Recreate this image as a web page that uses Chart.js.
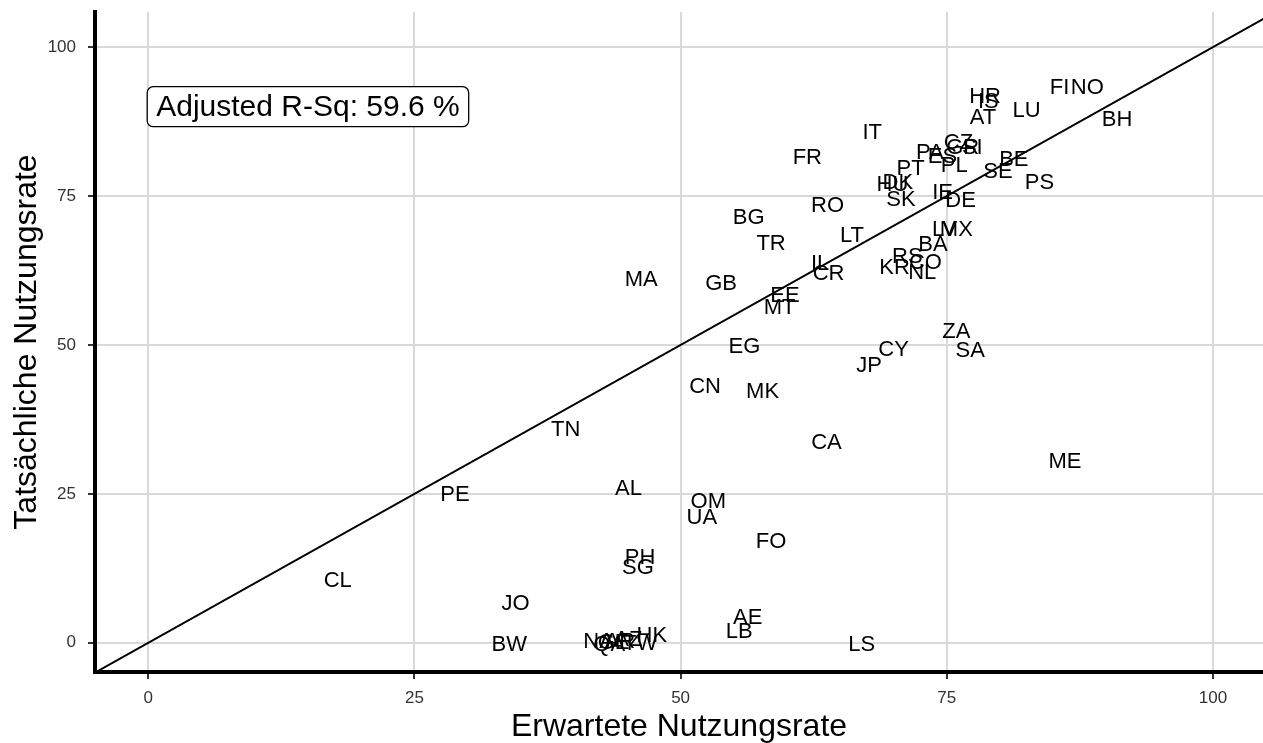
<!DOCTYPE html>
<html>
<head>
<meta charset="utf-8">
<script src="https://cdn.jsdelivr.net/npm/chart.js@4.4.1/dist/chart.umd.min.js"></script>
<style>
  html, body { margin: 0; padding: 0; background: #fff; }
</style>
</head>
<body>
<canvas id="myChart" width="1263" height="743"></canvas>
<script>
// country codes, expected usage rate (x) and actual usage rate (y)
var countries = ['FI', 'NO', 'HR', 'IS', 'AT', 'LU', 'BH', 'IT', 'FR', 'CZ',
  'GR', 'SI', 'PA', 'ES', 'PL', 'PT', 'BE', 'SE', 'PS', 'HU',
  'DK', 'SK', 'IE', 'DE', 'RO', 'BG', 'LV', 'MX', 'LT', 'TR',
  'BA', 'RS', 'CO', 'KR', 'NL', 'IL', 'CR', 'MA', 'GB', 'EE',
  'MT', 'ZA', 'SA', 'EG', 'CY', 'JP', 'CN', 'MK', 'TN', 'CA',
  'ME', 'AL', 'PE', 'OM', 'UA', 'FO', 'PH', 'SG', 'CL', 'JO',
  'AE', 'LB', 'BW', 'LS', 'NA', 'QA', 'GE', 'AR', 'AZ', 'TW', 'HK']
var expectedRate = [85.6, 88.2, 78.6, 78.9, 78.4, 82.5, 91.0, 68.0, 61.9, 76.1,
  76.5, 77.4, 73.4, 74.6, 75.7, 71.6, 81.3, 79.8, 83.7, 69.9,
  70.4, 70.7, 74.6, 76.3, 63.8, 56.4, 74.8, 75.9, 66.1, 58.5,
  73.7, 71.3, 73.0, 70.1, 72.7, 63.1, 63.9, 46.3, 53.8, 59.8,
  59.3, 75.9, 77.2, 56.0, 70.0, 67.7, 52.3, 57.7, 39.2, 63.7,
  86.1, 45.1, 28.8, 52.6, 52.0, 58.5, 46.2, 46.0, 17.8, 34.5,
  56.3, 55.5, 33.9, 67.0, 42.3, 43.3, 43.7, 44.3, 45.1, 46.2, 47.3]
var actualRate = [93.1, 93.1, 91.6, 90.8, 88.1, 89.3, 87.8, 85.6, 81.4, 83.9,
  83.1, 83.1, 82.2, 81.5, 80.0, 79.5, 81.0, 79.0, 77.2, 76.8,
  77.2, 74.3, 75.5, 74.2, 73.3, 71.3, 69.3, 69.3, 68.3, 66.9,
  66.8, 64.8, 63.8, 62.9, 62.1, 63.6, 61.9, 60.9, 60.2, 58.2,
  56.2, 52.2, 49.0, 49.7, 49.2, 46.5, 43.0, 42.1, 35.7, 33.6,
  30.4, 25.8, 24.8, 23.7, 21.0, 16.9, 14.3, 12.6, 10.4, 6.5,
  4.2, 1.8, -0.3, -0.3, 0.2, -0.3, -0.1, 0.2, 0.5, -0.2, 1.2]
var tickValues = [0, 25, 50, 75, 100]
var identityLine = [-5, 105]
var adjustedRSq = 59.6

var fontFamily = "'Liberation Sans', Arial, sans-serif"

var points = countries.map(function(code, i) {
  return { x: expectedRate[i], y: actualRate[i], label: code }
})

// country codes written at each point instead of markers
var countryLabels = {
  id: 'countryLabels',
  afterDatasetsDraw: function(chart) {
    var ctx = chart.ctx
    var meta = chart.getDatasetMeta(0)
    ctx.save()
    ctx.font = '22px ' + fontFamily
    ctx.fillStyle = '#000'
    ctx.textAlign = 'center'
    ctx.textBaseline = 'middle'
    meta.data.forEach(function(pt, i) {
      ctx.fillText(points[i].label, pt.x, pt.y)
    })
    ctx.restore()
  }
}

// boxed R-squared note in the upper left
var rsqLabel = {
  id: 'rsqLabel',
  afterDraw: function(chart) {
    var ctx = chart.ctx
    var cx = chart.scales.x.getPixelForValue(15)
    var cy = chart.scales.y.getPixelForValue(90)
    var text = 'Adjusted R-Sq: ' + adjustedRSq + ' %'
    ctx.save()
    ctx.font = '30px ' + fontFamily
    var w = ctx.measureText(text).width + 18
    var h = 40
    ctx.beginPath()
    ctx.roundRect(cx - w / 2, cy - h / 2, w, h, 6)
    ctx.fillStyle = '#fff'
    ctx.fill()
    ctx.lineWidth = 1.3
    ctx.strokeStyle = '#000'
    ctx.stroke()
    ctx.fillStyle = '#000'
    ctx.textAlign = 'center'
    ctx.textBaseline = 'middle'
    ctx.fillText(text, cx, cy + 1)
    ctx.restore()
  }
}

var ctx = document.getElementById('myChart')
var myChart = new Chart(ctx, {
  type: 'scatter',
  data: {
    datasets: [{
      data: points,
      pointRadius: 0,
      pointHoverRadius: 0
    }, {
      type: 'line',
      data: identityLine.map(function(v) { return { x: v, y: v } }),
      borderColor: '#000',
      borderWidth: 2,
      pointRadius: 0,
      fill: false
    }]
  },
  options: {
    responsive: false,
    animation: false,
    layout: { padding: { top: 12, right: 0, left: 0, bottom: 0 } },
    plugins: {
      legend: { display: false },
      tooltip: { enabled: false }
    },
    scales: {
      x: {
        type: 'linear',
        min: -5,
        max: 104.7,
        afterBuildTicks: function(scale) {
          scale.ticks = tickValues.map(function(v) { return { value: v } })
        },
        afterFit: function(scale) {
          scale.height = 71
          scale.paddingLeft = 0
          scale.paddingRight = 0
        },
        grid: { color: '#d9d9d9', lineWidth: 2, tickLength: 7, tickColor: '#333', tickWidth: 2 },
        border: { display: true, color: '#000', width: 4 },
        ticks: { color: '#333', padding: 9, font: { family: fontFamily, size: 17 } },
        title: {
          display: true,
          text: 'Erwartete Nutzungsrate',
          color: '#000',
          padding: { top: 0, bottom: 0 },
          font: { family: fontFamily, size: 32, lineHeight: 1 }
        }
      },
      y: {
        type: 'linear',
        min: -4.9,
        max: 105.9,
        afterBuildTicks: function(scale) {
          scale.ticks = tickValues.map(function(v) { return { value: v } })
        },
        afterFit: function(scale) {
          scale.width = 95
          scale.paddingTop = 0
          scale.paddingBottom = 0
        },
        grid: { color: '#d9d9d9', lineWidth: 2, tickLength: 7, tickColor: '#333', tickWidth: 2 },
        border: { display: true, color: '#000', width: 4 },
        ticks: { color: '#333', padding: 12, font: { family: fontFamily, size: 17 } },
        title: {
          display: true,
          text: 'Tatsächliche Nutzungsrate',
          color: '#000',
          padding: { top: 11, bottom: 0 },
          font: { family: fontFamily, size: 32, lineHeight: 1 }
        }
      }
    }
  },
  plugins: [countryLabels, rsqLabel]
})
</script>
</body>
</html>
